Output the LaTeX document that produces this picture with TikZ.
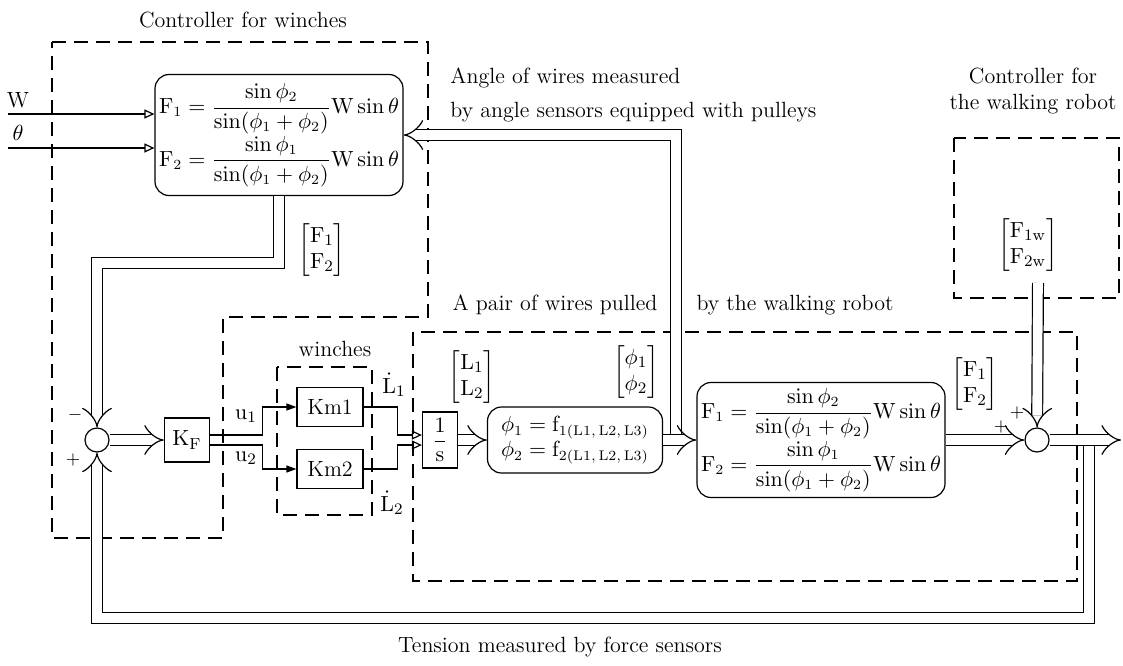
\documentclass[tikz,border=0pt]{standalone}
\usepackage{amsmath,amssymb}
\usepackage{tikz}
\usetikzlibrary{arrows.meta,calc,positioning}
\tikzset{
  bloque/.style={draw,line width=0.6pt,inner sep=1pt},
  bloquer/.style={draw,line width=0.6pt,rounded corners=7pt,inner sep=1.5pt,align=left,font=\fontsize{10.5}{12.5}\selectfont},
  sumador/.style={circle,draw,line width=0.6pt,minimum size=12pt,inner sep=0pt},
  vectorial/.style={double,double distance=4.8pt,line width=0.6pt,-{Implies}},
  senal/.style={line width=0.6pt},
  llena/.style={senal,-{Triangle[length=5pt,width=3.5pt]}},
  hueca/.style={senal,-{Triangle[open,length=5pt,width=4.5pt]}},
  grupo/.style={line width=0.7pt,dash pattern=on 7pt off 4pt},
  rotulo/.style={inner sep=1pt},
  signo/.style={inner sep=0pt,font=\small},
}
\begin{document}
\begin{tikzpicture}[x=0.5pt,y=-0.5pt,font=\fontsize{11}{13}\selectfont]
  \useasboundingbox (0,0) rectangle (1123,665);
  \draw[grupo] (52,42) -- (428,42) -- (428,317) -- (223,317) -- (223,538) -- (52,538) -- cycle;
  \draw[grupo] (277,367) rectangle (372,515);
  \draw[grupo] (413,332) rectangle (1077,581);
  \draw[grupo] (954,138) rectangle (1119,298);

  \node[bloquer,minimum width=124pt,minimum height=60.5pt] (ctrlF) at (279,135)
    {$\mathrm{F}_1=\dfrac{\sin\phi_2}{\sin(\phi_1+\phi_2)}\mathrm{W}\sin\theta$\\
     $\mathrm{F}_2=\dfrac{\sin\phi_1}{\sin(\phi_1+\phi_2)}\mathrm{W}\sin\theta$};
  \node[sumador] (sumA) at (97,440) {};
  \node[bloque,minimum width=22.5pt,minimum height=22pt] (kf) at (187,440) {$\mathrm{K}_\mathrm{F}$};
  \node[bloque,minimum width=33pt,minimum height=19.5pt] (km1) at (330,407) {Km1};
  \node[bloque,minimum width=33pt,minimum height=19.5pt] (km2) at (330,469) {Km2};
  \node[bloque,minimum width=17.5pt,minimum height=28pt] (inv) at (440,440) {$\dfrac{1}{\mathrm{s}}$};
  \node[bloquer,minimum width=87.5pt,minimum height=33pt] (phiB) at (575,440)
    {$\phi_1=\mathrm{f}_{1(\mathrm{L1,\,L2,\,L3})}$\\
     $\phi_2=\mathrm{f}_{2(\mathrm{L1,\,L2,\,L3})}$};
  \node[bloquer,minimum width=124pt,minimum height=57.5pt] (fR) at (821,440)
    {$\mathrm{F}_1=\dfrac{\sin\phi_2}{\sin(\phi_1+\phi_2)}\mathrm{W}\sin\theta$\\
     $\mathrm{F}_2=\dfrac{\sin\phi_1}{\sin(\phi_1+\phi_2)}\mathrm{W}\sin\theta$};
  \node[sumador] (sumB) at (1037,440) {};

  \node[rotulo] (tCtrl) at (243,20) {Controller for winches};
  \node[rotulo,anchor=west] (tAng1) at (448,78) {Angle of wires measured};
  \node[rotulo,anchor=west] (tAng2) at (448,112) {by angle sensors equipped with pulleys};
  \node[rotulo,align=center] (tRob) at (1033,91) {Controller for\\the walking robot};
  \node[rotulo] (tPar1) at (555,305) {A pair of wires pulled};
  \node[rotulo] (tPar2) at (795,305) {by the walking robot};
  \node[rotulo] (tWin) at (335,349) {winches};
  \node[rotulo] (tTen) at (560,647) {Tension measured by force sensors};
  \node[rotulo] (lW) at (18,100) {W};
  \node[rotulo] (lT) at (18,133) {$\theta$};
  \node[rotulo] (mF) at (322,250) {$\begin{bmatrix}\mathrm{F}_1\\ \mathrm{F}_2\end{bmatrix}$};
  \node[rotulo] (mFw) at (1028,245) {$\begin{bmatrix}\mathrm{F}_{1\mathrm{w}}\\ \mathrm{F}_{2\mathrm{w}}\end{bmatrix}$};
  \node[rotulo] (mL) at (472,377) {$\begin{bmatrix}\mathrm{L}_1\\ \mathrm{L}_2\end{bmatrix}$};
  \node[rotulo] (mPhi) at (636,372) {$\begin{bmatrix}\phi_1\\ \phi_2\end{bmatrix}$};
  \node[rotulo] (mFr) at (975,384) {$\begin{bmatrix}\mathrm{F}_1\\ \mathrm{F}_2\end{bmatrix}$};
  \node[rotulo] (lL1) at (394,385) {$\dot{\mathrm{L}}_1$};
  \node[rotulo] (lL2) at (392,503) {$\dot{\mathrm{L}}_2$};
  \node[rotulo] (lu1) at (246,416) {$\mathrm{u}_1$};
  \node[rotulo] (lu2) at (246,458) {$\mathrm{u}_2$};
  \node[signo] (sMen) at (75,415) {$-$};
  \node[signo] (sMas) at (73,460) {$+$};
  \node[signo] (sMasB) at (1017,413) {$+$};
  \node[signo] (sMasC) at (1001,427) {$+$};

  \coordinate (inW) at (8,114);
  \coordinate (inT) at (8,148);
  \coordinate (tapA) at (676,440);
  \coordinate (tapB) at (1089,440);
  \coordinate (fbk) at (1089,618);
  \coordinate (cw) at (1038,283);
  \coordinate (salida) at (1121,440);

  \draw[hueca] (inW) -- (inW -| ctrlF.west);
  \draw[hueca] (inT) -- (inT -| ctrlF.west);
  \draw[vectorial] (ctrlF.south) -- ++(0,67) -| (sumA);
  \draw[vectorial] (tapB) -- (fbk) -| (sumA);
  \draw[vectorial] (sumA) -- (kf);
  \draw[llena] ([yshift=2.5pt]kf.east) -- ++(52,0) |- (km1);
  \draw[llena] ([yshift=-2.5pt]kf.east) -- ++(52,0) |- (km2);
  \draw[hueca] (km1.east) -- ++(34,0) |- ([yshift=2.5pt]inv.west);
  \draw[hueca] (km2.east) -- ++(34,0) |- ([yshift=-2.5pt]inv.west);
  \draw[vectorial] (inv) -- (phiB);
  \draw[vectorial] (tapA) |- (ctrlF);
  \draw[vectorial] (phiB) -- (fR);
  \draw[vectorial] (fR) -- (sumB);
  \draw[vectorial] (cw) -- (sumB);
  \draw[vectorial] (sumB) -- (salida);
\end{tikzpicture}
\end{document}
